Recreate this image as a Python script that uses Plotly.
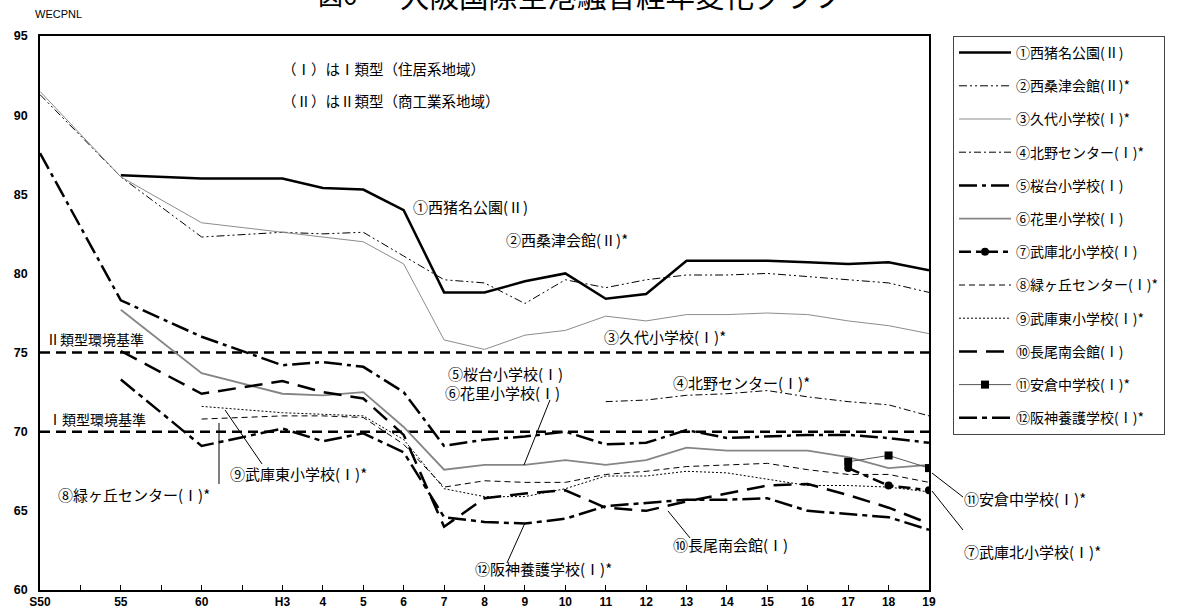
import plotly.graph_objects as go

# ---- data ----
categories = ["S50", "", "55", "", "60", "", "H3", "4", "5", "6", "7", "8", "9",
              "10", "11", "12", "13", "14", "15", "16", "17", "18", "19"]

names = ["①西猪名公園(Ⅱ)", "②西桑津会館(Ⅱ)*", "③久代小学校(Ⅰ)*", "④北野センター(Ⅰ)*",
         "⑤桜台小学校(Ⅰ)", "⑥花里小学校(Ⅰ)", "⑦武庫北小学校(Ⅰ)", "⑧緑ヶ丘センター(Ⅰ)*",
         "⑨武庫東小学校(Ⅰ)*", "⑩長尾南会館(Ⅰ)", "⑪安倉中学校(Ⅰ)*", "⑫阪神養護学校(Ⅰ)*"]

N = None
s1 = [N, N, 86.2, N, 86.0, N, 86.0, 85.4, 85.3, 84.0, 78.8, 78.8, 79.5, 80.0, 78.4, 78.7, 80.8, 80.8, 80.8, 80.7, 80.6, 80.7, 80.2]
s2 = [91.3, N, 86.1, N, 82.3, N, 82.6, 82.5, 82.6, 81.1, 79.6, 79.4, 78.1, 79.6, 79.1, 79.6, 79.9, 79.9, 80.0, 79.8, 79.6, 79.4, 78.8]
s3 = [91.5, N, 86.1, N, 83.2, N, 82.6, 82.3, 82.0, 80.6, 75.8, 75.2, 76.1, 76.4, 77.3, 77.0, 77.4, 77.4, 77.5, 77.4, 77.0, 76.7, 76.2]
s4 = [N, N, N, N, N, N, N, N, N, N, N, N, N, N, 71.9, 72.0, 72.3, 72.4, 72.6, 72.2, 71.9, 71.7, 71.0]
s5 = [87.6, N, 78.3, N, 76.0, N, 74.2, 74.4, 74.1, 72.5, 69.1, 69.5, 69.7, 70.0, 69.2, 69.3, 70.1, 69.6, 69.7, 69.8, 69.8, 69.6, 69.3]
s6 = [N, N, 77.7, N, 73.7, N, 72.4, 72.3, 72.5, 70.3, 67.6, 67.9, 67.9, 68.2, 67.9, 68.2, 69.0, 68.8, 68.8, 68.8, 68.4, 67.7, 67.9]
s7 = [N, N, N, N, N, N, N, N, N, N, N, N, N, N, N, N, N, N, N, N, 67.7, 66.6, 66.3]
s8 = [N, N, N, N, 70.8, N, 71.0, 71.0, 70.9, 69.2, 66.5, 66.9, 66.8, 66.8, 67.3, 67.5, 67.8, 67.9, 68.0, 67.6, 67.3, 67.3, 66.8]
s9 = [N, N, N, N, 71.6, N, 71.2, 71.1, 71.0, 69.5, 66.4, 65.9, 65.9, 66.4, 67.2, 67.2, 67.5, 67.4, 67.0, 66.6, 66.6, 66.5, 66.2]
s10 = [N, N, 75.1, N, 72.4, N, 73.2, 72.5, 72.1, 69.8, 64.0, 65.8, 66.1, 66.3, 65.2, 65.0, 65.6, 66.1, 66.6, 66.7, 66.0, 65.2, 64.2]
s11 = [N, N, N, N, N, N, N, N, N, N, N, N, N, N, N, N, N, N, N, N, 68.1, 68.5, 67.7]
s12 = [N, N, 73.3, N, 69.1, N, 70.2, 69.4, 69.9, 68.7, 64.6, 64.3, 64.2, 64.5, 65.3, 65.5, 65.7, 65.7, 65.8, 65.0, 64.8, 64.6, 63.8]

y_ticks = [60, 65, 70, 75, 80, 85, 90, 95]
standards = [75, 70]
standard_labels = ["Ⅱ類型環境基準", "Ⅰ類型環境基準"]
notes = ["（Ⅰ）はⅠ類型（住居系地域）", "（Ⅱ）はⅡ類型（商工業系地域）"]
title_num = "図6"
title_text = "大阪国際空港騒音経年変化グラフ"

series = [s1, s2, s3, s4, s5, s6, s7, s8, s9, s10, s11, s12]
xs = list(range(len(categories)))

# ---- styles ----
JP = "Noto Sans CJK JP"
line_styles = [
    dict(color="black", width=2.5, dash="solid"),
    dict(color="black", width=1, dash="8px,3px,2px,3px,2px,3px"),
    dict(color="#8c8c8c", width=1, dash="solid"),
    dict(color="black", width=1, dash="7px,3px,2px,3px"),
    dict(color="black", width=2.5, dash="18px,5px,4px,5px"),
    dict(color="#858585", width=1.8, dash="solid"),
    dict(color="black", width=2.5, dash="12px,5px,5px,5px"),
    dict(color="black", width=1, dash="6px,4px"),
    dict(color="black", width=1, dash="2px,2px"),
    dict(color="black", width=2.5, dash="18px,9px"),
    dict(color="#555555", width=1, dash="solid"),
    dict(color="black", width=2.5, dash="18px,5px,5px,5px"),
]
markers = [None] * 12
markers[6] = dict(symbol="circle", size=8, color="black")
markers[10] = dict(symbol="square", size=8, color="black")

fig = go.Figure()
for i, (nm, s) in enumerate(zip(names, series)):
    fig.add_trace(go.Scatter(
        x=xs, y=s, name=nm, mode="lines+markers" if markers[i] else "lines",
        line=line_styles[i], marker=markers[i] if markers[i] else None,
        connectgaps=True, legendgroup=f"g{i}", hoverinfo="x+y+name",
    ))

shapes = []
for v in standards:
    shapes.append(dict(type="line", xref="x", yref="y", x0=0, x1=len(categories) - 1, y0=v, y1=v,
                       line=dict(color="black", width=2.5, dash="10px,6px"), layer="below"))

def px2x(px):
    return (px - 40) / 40.41

def py2y(py):
    return 95 - (py - 36) / 15.83

def ppx(px):
    return (px - 40) / 889

def ppy(py):
    return (590 - py) / 554

# pointer lines inside plot (data coords)
for (a, b, c, d) in [(550, 400, 524, 465), (262, 464, 225, 410), (219, 423, 219, 484),
                     (507, 563, 525, 523), (690, 538, 668, 511)]:
    shapes.append(dict(type="line", xref="x", yref="y", x0=px2x(a), y0=py2y(b), x1=px2x(c), y1=py2y(d),
                       line=dict(color="black", width=1)))
# pointer lines outside plot (paper coords)
for (a, b, c, d) in [(932, 473, 963, 497), (932, 491, 963, 530)]:
    shapes.append(dict(type="line", xref="paper", yref="paper", x0=ppx(a), y0=ppy(b), x1=ppx(c), y1=ppy(d),
                       line=dict(color="black", width=1)))

annotations = []
def lab(text, px, py, size=15, ref="data", family=JP):
    if ref == "data":
        annotations.append(dict(text=text, x=px2x(px), y=py2y(py), xref="x", yref="y",
                                xanchor="left", yanchor="middle", showarrow=False,
                                font=dict(family=family, size=size, color="black")))
    else:
        annotations.append(dict(text=text, x=ppx(px), y=ppy(py), xref="paper", yref="paper",
                                xanchor="left", yanchor="middle", showarrow=False,
                                font=dict(family=family, size=size, color="black")))

lab(notes[0], 280, 68, 14.5)
lab(notes[1], 280, 101, 14.5)
lab(standard_labels[0], 44, 339, 14)
lab(standard_labels[1], 46, 419, 14)
lab(names[0], 411, 207)
lab(names[1], 504, 240)
lab(names[2], 602, 337)
lab(names[3], 671, 383)
lab(names[4], 446, 374)
lab(names[5], 443, 393)
lab(names[8], 228, 474)
lab(names[7], 56, 495)
lab(names[11], 473, 569)
lab(names[9], 671, 545)
lab(names[10], 962, 498, ref="paper")
lab("⑦武庫北小学校(Ⅰ)*", 962, 551, ref="paper")
lab("WECPNL", 33, 14, 11, ref="paper", family="Arial")
lab(title_num, 316, -6, 25, ref="paper")
lab(title_text, 398, -6, 29.5, ref="paper")

fig.update_layout(
    width=1178, height=612,
    margin=dict(l=40, r=249, t=36, b=22, autoexpand=False),
    plot_bgcolor="white", paper_bgcolor="white",
    font=dict(family=JP, size=12, color="black"),
    shapes=shapes, annotations=annotations,
    showlegend=True,
    legend=dict(x=ppx(953), y=1.0, xanchor="left", yanchor="top",
                bordercolor="#444444", borderwidth=1, bgcolor="white",
                font=dict(family=JP, size=14, color="black"),
                tracegroupgap=12, itemwidth=52),
    xaxis=dict(range=[0, len(categories) - 1], tickmode="array", tickvals=xs,
               ticktext=[f"<b>{c}</b>" if c else "" for c in categories],
               ticks="inside", ticklen=5, tickcolor="black", showline=True, linecolor="black",
               linewidth=1.5, mirror=True, showgrid=False, zeroline=False, automargin=False,
               tickfont=dict(family="Arial", size=12, color="black")),
    yaxis=dict(range=[60, 95], tickmode="array", tickvals=y_ticks,
               ticktext=[f"<b>{v}</b>" for v in y_ticks],
               ticks="", showline=True, linecolor="black", linewidth=1.5, mirror=True,
               showgrid=False, zeroline=False, ticklabelstandoff=8, automargin=False,
               tickfont=dict(family="Arial", size=12.5, color="black")),
)

fig.write_html("out.html", config={"displayModeBar": False},
               post_script="document.body.style.margin='0';")
